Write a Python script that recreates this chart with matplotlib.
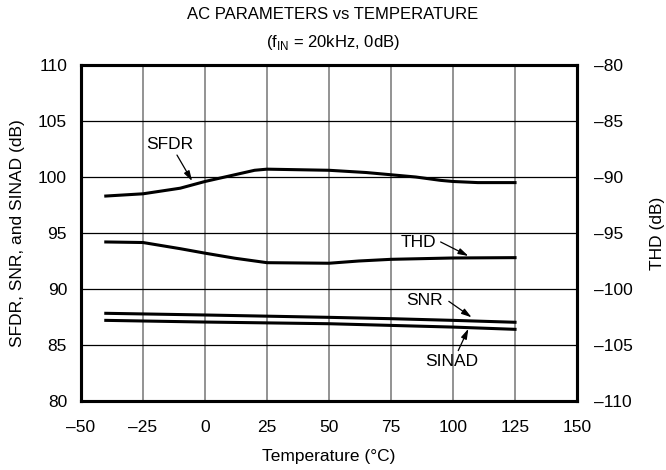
import matplotlib
matplotlib.use("Agg")
import matplotlib.pyplot as plt

plt.rcParams['font.family'] = ['Liberation Sans', 'DejaVu Sans']

temp_sfdr = [-40, -25, -10, 0, 10, 20, 25, 50, 65, 75, 85, 95, 100, 110, 125]
sfdr = [98.3, 98.5, 99.0, 99.6, 100.1, 100.6, 100.7, 100.6, 100.4, 100.2, 100.0, 99.7, 99.6, 99.5, 99.5]

temp_thd = [-40, -25, -10, 0, 12, 25, 50, 62, 75, 100, 125]
thd = [-95.8, -95.85, -96.4, -96.8, -97.25, -97.65, -97.7, -97.5, -97.35, -97.23, -97.2]

temp_snr = [-40, 0, 50, 75, 100, 125]
snr = [87.83, 87.68, 87.47, 87.35, 87.2, 87.03]

temp_sinad = [-40, 0, 50, 75, 100, 125]
sinad = [87.2, 87.05, 86.9, 86.75, 86.6, 86.4]

x_ticks = [-50, -25, 0, 25, 50, 75, 100, 125, 150]
y_left_ticks = [80, 85, 90, 95, 100, 105, 110]
y_right_ticks = [-110, -105, -100, -95, -90, -85, -80]

FS = 12.5

fig = plt.figure(figsize=(6.66, 4.70), dpi=100)
ax = fig.add_axes([0.1216, 0.1468, 0.8664 - 0.1216, 0.8617 - 0.1468])
ax.set_xlim(-50, 150)
ax.set_ylim(80, 110)
ax.set_xticks(x_ticks)
ax.set_xticklabels([str(t).replace('-', '\u2013') for t in x_ticks])
ax.set_yticks(y_left_ticks)
ax.tick_params(axis='x', length=0, labelsize=FS, pad=14)
ax.tick_params(axis='y', length=0, labelsize=FS, pad=10)
for t in x_ticks[1:-1]:
    ax.axvline(t, color='#808080', lw=1.2, zorder=1)
for t in y_left_ticks[1:-1]:
    ax.axhline(t, color='black', lw=0.9, zorder=1)
for s in ax.spines.values():
    s.set_linewidth(2.2)

ax2 = ax.twinx()
ax2.set_ylim(-110, -80)
ax2.set_yticks(y_right_ticks)
ax2.set_yticklabels([str(t).replace('-', '\u2013') for t in y_right_ticks])
ax2.tick_params(length=0, labelsize=FS, pad=12)
for s in ax2.spines.values():
    s.set_linewidth(2.2)

ax.plot(temp_sfdr, sfdr, color='black', lw=2.2, zorder=3)
ax.plot(temp_snr, snr, color='black', lw=2.2, zorder=3)
ax.plot(temp_sinad, sinad, color='black', lw=2.2, zorder=3)
ax2.plot(temp_thd, thd, color='black', lw=2.2, zorder=3)

ax.set_xlabel('Temperature (\u00b0C)', fontsize=FS)
ax.xaxis.set_label_coords(0.5, -0.143)
ax.set_ylabel('SFDR, SNR, and SINAD (dB)', fontsize=FS)
ax.yaxis.set_label_coords(-0.113, 0.5)
ax2.set_ylabel('THD (dB)', fontsize=FS)
ax2.yaxis.set_label_coords(1.147, 0.5)

fig.text(0.5, 0.970, 'AC PARAMETERS vs TEMPERATURE', ha='center', va='center', fontsize=12)
fig.text(0.5, 0.910, r'(f$_{\mathregular{IN}}$ = 20kHz, 0dB)', ha='center', va='center', fontsize=12)

ap = dict(arrowstyle='-|>,head_length=0.6,head_width=0.18', color='black', lw=0.9, shrinkA=0, shrinkB=0)
ax.text(-14.1, 102.9, 'SFDR', ha='center', va='center', fontsize=FS)
ax.annotate('', xy=(-5.2, 99.64), xytext=(-11.3, 101.96), arrowprops=ap)
ax.text(85.9, 94.13, 'THD', ha='center', va='center', fontsize=FS)
ax.annotate('', xy=(106.2, 92.95), xytext=(95.0, 94.2), arrowprops=ap)
ax.text(88.7, 89.0, 'SNR', ha='center', va='center', fontsize=FS)
ax.annotate('', xy=(107.5, 87.47), xytext=(98.3, 88.9), arrowprops=ap)
ax.text(99.5, 83.5, 'SINAD', ha='center', va='center', fontsize=FS)
ax.annotate('', xy=(106.2, 86.45), xytext=(102.1, 84.5), arrowprops=ap)

fig.savefig('out.png', dpi=100)
